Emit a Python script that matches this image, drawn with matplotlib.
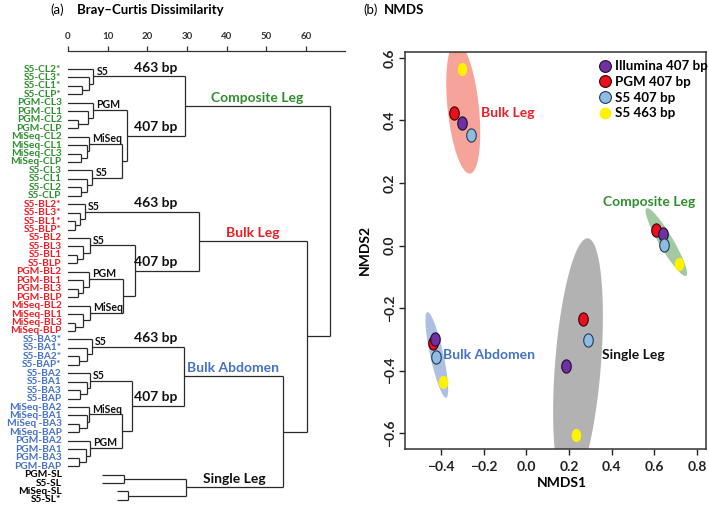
import numpy as np
import matplotlib
matplotlib.use("Agg")
import matplotlib.pyplot as plt
from matplotlib.path import Path
from matplotlib.lines import Line2D

plt.rcParams['font.family'] = ['Lato', 'DejaVu Sans']
plt.rcParams['font.weight'] = 'bold'
plt.rcParams['axes.labelweight'] = 'bold'

W, H = 709, 508

# ---------------- dendrogram data ----------------
green_leaves = ['S5-CL2*', 'S5-CL3*', 'S5-CL1*', 'S5-CLP*',
                'PGM-CL3', 'PGM-CL1', 'PGM-CL2', 'PGM-CLP',
                'MiSeq-CL2', 'MiSeq-CL1', 'MiSeq-CL3', 'MiSeq-CLP',
                'S5-CL3', 'S5-CL1', 'S5-CL2', 'S5-CLP']
red_leaves = ['S5-BL2*', 'S5-BL3*', 'S5-BL1*', 'S5-BLP*',
              'S5-BL2', 'S5-BL3', 'S5-BL1', 'S5-BLP',
              'PGM-BL2', 'PGM-BL1', 'PGM-BL3', 'PGM-BLP',
              'MiSeq-BL2', 'MiSeq-BL1', 'MiSeq-BL3', 'MiSeq-BLP']
blue_leaves = ['S5-BA3*', 'S5-BA1*', 'S5-BA2*', 'S5-BAP*',
               'S5-BA2', 'S5-BA1', 'S5-BA3', 'S5-BAP',
               'MiSeq-BA2', 'MiSeq-BA1', 'MiSeq -BA3', 'MiSeq-BAP',
               'PGM-BA2', 'PGM-BA1', 'PGM-BA3', 'PGM-BAP']
black_leaves = ['PGM-SL', 'S5-SL', 'MiSeq-SL', 'S5-SL*']
leaves = green_leaves + red_leaves + blue_leaves + black_leaves

# merges as (height, left, right)
cl_s5_463 = (6.4, 'S5-CL2*', (5.2, 'S5-CL3*', (3.6, 'S5-CL1*', 'S5-CLP*')))
cl_pgm = (6.4, 'PGM-CL3', (5.0, 'PGM-CL1', (2.6, 'PGM-CL2', 'PGM-CLP')))
cl_miseq = (5.2, 'MiSeq-CL2', (4.9, 'MiSeq-CL1', (3.3, 'MiSeq-CL3', 'MiSeq-CLP')))
cl_s5 = (6.1, 'S5-CL3', (4.7, 'S5-CL1', (3.3, 'S5-CL2', 'S5-CLP')))
cl_407 = (14.9, cl_pgm, (13.5, cl_miseq, cl_s5))
composite = (29.5, cl_s5_463, cl_407)

bl_s5_463 = (4.3, 'S5-BL2*', (3.0, 'S5-BL3*', (1.8, 'S5-BL1*', 'S5-BLP*')))
bl_s5 = (5.5, 'S5-BL2', (3.9, 'S5-BL3', (2.2, 'S5-BL1', 'S5-BLP')))
bl_pgm = (5.4, 'PGM-BL2', (3.8, 'PGM-BL1', (2.6, 'PGM-BL3', 'PGM-BLP')))
bl_miseq = (5.5, 'MiSeq-BL2', (3.9, 'MiSeq-BL1', (1.8, 'MiSeq-BL3', 'MiSeq-BLP')))
bl_407 = (16.9, bl_s5, (13.9, bl_pgm, bl_miseq))
bulk_leg = (33.0, bl_s5_463, bl_407)

ba_s5_463 = (6.0, 'S5-BA3*', (4.7, 'S5-BA1*', (2.8, 'S5-BA2*', 'S5-BAP*')))
ba_s5 = (5.5, 'S5-BA2', (4.7, 'S5-BA1', (3.0, 'S5-BA3', 'S5-BAP')))
ba_miseq = (5.4, 'MiSeq-BA2', (4.7, 'MiSeq-BA1', (2.8, 'MiSeq -BA3', 'MiSeq-BAP')))
ba_pgm = (5.5, 'PGM-BA2', (4.5, 'PGM-BA1', (2.8, 'PGM-BA3', 'PGM-BAP')))
ba_407 = (16.2, ba_s5, (13.7, ba_miseq, ba_pgm))
bulk_abd = (29.2, ba_s5_463, ba_407)

single_leg = (29.7, (14.0, 'PGM-SL', 'S5-SL'), (15.0, 'MiSeq-SL', 'S5-SL*'))

tree = (66.0, composite, (60.2, bulk_leg, (54.2, bulk_abd, single_leg)))

leaf_start = {'PGM-SL': 8.5, 'S5-SL': 8.5, 'MiSeq-SL': 12.3, 'S5-SL*': 12.3}

# ---------------- NMDS data ----------------
illumina_x = [-0.301, 0.642, -0.428, 0.185]
illumina_y = [0.392, 0.036, -0.298, -0.386]
pgm_x = [-0.338, 0.607, -0.439, 0.264]
pgm_y = [0.424, 0.051, -0.312, -0.234]
s5_407_x = [-0.259, 0.647, -0.423, 0.288]
s5_407_y = [0.352, 0.003, -0.358, -0.303]
s5_463_x = [-0.303, 0.717, -0.392, 0.232]
s5_463_y = [0.566, -0.060, -0.438, -0.605]

groups = ['Bulk Leg', 'Composite Leg', 'Bulk Abdomen', 'Single Leg']
ell_cx = [-0.296, 0.656, -0.420, 0.242]
ell_cy = [0.440, 0.011, -0.350, -0.379]
ell_tip_x = [-0.264, 0.749, -0.376, 0.288]
ell_tip_y = [0.230, -0.097, -0.487, 0.023]
ell_ratio = [0.237, 0.18, 0.15, 0.182]
group_text_x = [-0.212, 0.358, -0.389, 0.356]
group_text_y = [0.424, 0.140, -0.351, -0.351]

GREEN, RED, BLUE = '#2f8f2f', '#ee1c24', '#4472c4'
LINE = '#2a2a2a'

fig = plt.figure(figsize=(W / 100, H / 100), dpi=100)

# ---------------- (a) dendrogram ----------------
ax = fig.add_axes([68 / W, 1 - 505 / H, 277 / W, 454 / H])
ax.set_xlim(0, 277 / 3.967)
ax.set_ylim((505 - 69) / 8.45, -(69 - 51) / 8.45)

node_y = {}


def draw(node):
    if isinstance(node, str):
        return leaf_start.get(node, -0.8), leaves.index(node)
    h, a, b = node
    ha, ya = draw(a)
    hb, yb = draw(b)
    kw = dict(color=LINE, lw=0.9, solid_capstyle='butt')
    ax.plot([ha, h], [ya, ya], **kw)
    ax.plot([hb, h], [yb, yb], **kw)
    ax.plot([h, h], [ya, yb], **kw)
    node_y[id(node)] = (ya + yb) / 2
    return h, (ya + yb) / 2


draw(tree)

for i, name in enumerate(leaves):
    if name in green_leaves:
        c = GREEN
    elif name in red_leaves:
        c = RED
    elif name in blue_leaves:
        c = BLUE
    else:
        c = 'black'
    ax.text(-1.6, i, name, ha='right', va='center', fontsize=7.3,
            color=c, clip_on=False)

# platform labels
for node, txt in [(cl_s5_463, 'S5'), (cl_pgm, 'PGM'), (cl_miseq, 'MiSeq'), (cl_s5, 'S5'),
                  (bl_s5_463, 'S5'), (bl_s5, 'S5'), (bl_pgm, 'PGM'), (bl_miseq, 'MiSeq'),
                  (ba_s5_463, 'S5'), (ba_s5, 'S5'), (ba_miseq, 'MiSeq'), (ba_pgm, 'PGM')]:
    ax.text(node[0] + 0.8, node_y[id(node)] - 0.62, txt, ha='left', va='center',
            fontsize=7.6, color='#111111')

# amplicon labels
for node, txt in [(cl_s5_463, '463 bp'), (cl_407, '407 bp'),
                  (bl_s5_463, '463 bp'), (bl_407, '407 bp'),
                  (ba_s5_463, '463 bp'), (ba_407, '407 bp')]:
    ax.text(22.0, node_y[id(node)] - 1.0, txt, ha='center', va='center',
            fontsize=10, color='#111111')

# cluster labels
for node, parent_h, txt, c in [(composite, 66.0, 'Composite Leg', GREEN),
                               (bulk_leg, 60.2, 'Bulk Leg', RED),
                               (bulk_abd, 54.2, 'Bulk Abdomen', BLUE),
                               (single_leg, 54.2, 'Single Leg', '#111111')]:
    ax.text((node[0] + parent_h) / 2, node_y[id(node)] - 0.95, txt, ha='center',
            va='center', fontsize=10, color=c)

for s in ['left', 'right', 'bottom']:
    ax.spines[s].set_visible(False)
ax.spines['top'].set_linewidth(0.9)
ax.spines['top'].set_color('#333333')
ax.set_yticks([])
ax.set_xticks(np.arange(0, 61, 10))
ax.xaxis.tick_top()
ax.tick_params(axis='x', direction='out', length=3.5, width=0.9, pad=3.5,
               labelsize=7, colors='#333333')

fig.text(50 / W, 1 - 10 / H, '(a)', fontsize=9.5, fontweight='normal', va='center')
fig.text(77 / W, 1 - 10 / H, 'Bray–Curtis Dissimilarity', fontsize=9.5, va='center')

# ---------------- (b) NMDS ----------------
ax2 = fig.add_axes([405 / W, 1 - 449 / H, 301 / W, (449 - 51.7) / H])
xmin, xmax = -0.569, 0.842
ymin, ymax = -0.651, 0.620
ax2.set_xlim(xmin, xmax)
ax2.set_ylim(ymin, ymax)
sx = 301 / (xmax - xmin)
sy = (449 - 51.7) / (ymax - ymin)

ell_colors = ['#f6a399', '#a3c9a3', '#adc0e2', '#b2b2b2']
t = np.linspace(0, 2 * np.pi, 200)
for i in range(len(groups)):
    ux, uy = (ell_tip_x[i] - ell_cx[i]) * sx, (ell_tip_y[i] - ell_cy[i]) * sy
    vx, vy = -uy * ell_ratio[i], ux * ell_ratio[i]
    ex = ell_cx[i] + (np.cos(t) * ux + np.sin(t) * vx) / sx
    ey = ell_cy[i] + (np.cos(t) * uy + np.sin(t) * vy) / sy
    ax2.fill(ex, ey, color=ell_colors[i], lw=0, zorder=1)

oval_t = np.linspace(0, 2 * np.pi, 60)
oval = Path(np.column_stack([0.72 * np.cos(oval_t), np.sin(oval_t)]))

series = [('PGM 407 bp', pgm_x, pgm_y, '#e8101e', '#3a0000'),
          ('Illumina 407 bp', illumina_x, illumina_y, '#7030a0', '#1e0c30'),
          ('S5 407 bp', s5_407_x, s5_407_y, '#8fbce0', '#1f3a60'),
          ('S5 463 bp', s5_463_x, s5_463_y, '#fff200', 'none')]
for lab, xs, ys, fc, ec in series:
    ax2.plot(xs, ys, ls='none', marker=oval, ms=9.5, mfc=fc, mec=ec,
             mew=0.8, zorder=3)

group_colors = [RED, GREEN, BLUE, '#111111']
for i, g in enumerate(groups):
    ax2.text(group_text_x[i], group_text_y[i], g, color=group_colors[i],
             fontsize=10, ha='left', va='center', zorder=4)

handles = []
for lab, fc, ec in [('Illumina 407 bp', '#7030a0', '#1e0c30'),
                    ('PGM 407 bp', '#e8101e', '#3a0000'),
                    ('S5 407 bp', '#8fbce0', '#1f3a60'),
                    ('S5 463 bp', '#fff200', 'none')]:
    handles.append(Line2D([], [], ls='none', marker='o', ms=8.5, mfc=fc, mec=ec, mew=0.8))
leg = ax2.legend(handles, ['Illumina 407 bp', 'PGM 407 bp', 'S5 407 bp', 'S5 463 bp'],
                 loc='upper left', bbox_to_anchor=(0.648, 0.978), frameon=False,
                 fontsize=9.6, handlelength=0.8, handletextpad=0.3,
                 labelspacing=0.27, borderpad=0, borderaxespad=0)

ax2.set_xticks(np.arange(-0.4, 0.81, 0.2))
ax2.set_yticks(np.arange(-0.6, 0.61, 0.2))
ax2.set_xticklabels(['−0.4', '−0.2', '0.0', '0.2', '0.4', '0.6', '0.8'])
ax2.set_yticklabels(['−0.6', '−0.4', '−0.2', '0.0', '0.2', '0.4', '0.6'],
                    rotation=90, va='center')
ax2.tick_params(direction='out', length=4.5, width=1, labelsize=10, colors='#222222')
ax2.tick_params(axis='x', pad=4)
ax2.tick_params(axis='y', pad=2)
for s in ax2.spines.values():
    s.set_linewidth(1.1)
    s.set_color('#333333')
ax2.set_xlabel('NMDS1', fontsize=10)
ax2.set_ylabel('NMDS2', fontsize=10)
ax2.xaxis.set_label_coords(0.52, -0.07)
ax2.yaxis.set_label_coords(-0.115, 0.5)

fig.text(363 / W, 1 - 10 / H, '(b)', fontsize=9.5, fontweight='normal', va='center')
fig.text(384 / W, 1 - 10 / H, 'NMDS', fontsize=9.5, va='center')

fig.savefig('out.png', dpi=100)
